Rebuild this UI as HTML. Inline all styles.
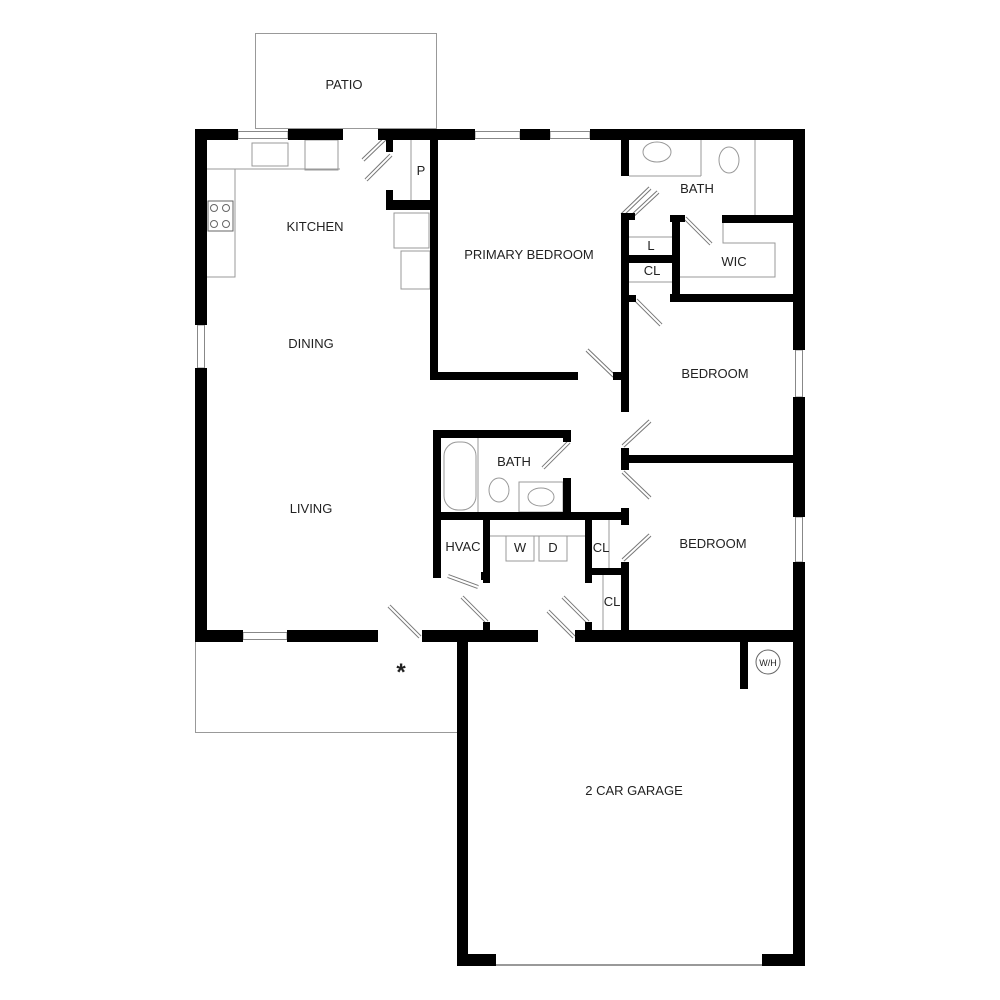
<!DOCTYPE html>
<html><head><meta charset="utf-8"><style>
html,body{margin:0;padding:0;background:#fff;}
svg{display:block;}
text{font-family:"Liberation Sans",sans-serif;font-size:13px;fill:#222;text-anchor:middle;}
</style></head><body>
<svg width="1000" height="1000" viewBox="0 0 1000 1000" xmlns="http://www.w3.org/2000/svg">
<!-- patio / porch outlines -->
<g fill="none" stroke="#999" stroke-width="1">
<rect x="255.5" y="33.5" width="181" height="95"/>
<polyline points="195.5,642 195.5,732.5 457,732.5"/>
</g>
<!-- windows -->
<g fill="#fff" stroke="#888" stroke-width="1">
<rect x="238" y="131.5" width="50" height="7"/>
<rect x="475" y="131.5" width="45" height="7"/>
<rect x="550" y="131.5" width="40" height="7"/>
<rect x="197.5" y="325" width="7" height="43"/>
<rect x="243" y="632.5" width="44" height="7"/>
<rect x="795.5" y="350" width="7" height="47"/>
<rect x="795.5" y="517" width="7" height="45"/>
</g>
<line x1="496" y1="965" x2="762" y2="965" stroke="#999" stroke-width="2"/>
<!-- thin interior lines -->
<g fill="none" stroke="#999" stroke-width="1">
<line x1="411" y1="140" x2="411" y2="200"/>
<line x1="755" y1="140" x2="755" y2="215"/>
<line x1="629" y1="237" x2="672" y2="237"/>
<line x1="629" y1="282" x2="672" y2="282"/>
<polyline points="723,222 723,243 775,243 775,277 680,277"/>
<line x1="629" y1="176" x2="701" y2="176"/>
<line x1="701" y1="140" x2="701" y2="176"/>
<line x1="478" y1="438" x2="478" y2="512"/>
<line x1="490" y1="536" x2="585" y2="536"/>
<line x1="609" y1="520" x2="609" y2="568"/>
<line x1="603" y1="575" x2="603" y2="630"/>
<!-- kitchen counters -->
<polyline points="207,169 235,169 235,277 207,277"/>
<line x1="235" y1="169" x2="340" y2="169"/>
<rect x="252" y="143" width="36" height="23"/>
<rect x="305" y="140" width="33" height="30"/>
<rect x="208" y="201" width="25" height="30" stroke="#666"/>
<rect x="394" y="213" width="35" height="35"/>
<rect x="401" y="251" width="29" height="38"/>
<!-- bath fixtures -->
<rect x="444" y="442" width="32" height="68" rx="14"/>
<ellipse cx="657" cy="152" rx="14" ry="10"/>
<ellipse cx="729" cy="160" rx="10" ry="13"/>
<ellipse cx="499" cy="490" rx="10" ry="12"/>
<rect x="519" y="482" width="44" height="30"/>
<ellipse cx="541" cy="497" rx="13" ry="9"/>
<rect x="506" y="536" width="28" height="25"/>
<rect x="539" y="536" width="28" height="25"/>
</g>
<g fill="none" stroke="#666" stroke-width="1">
<circle cx="214" cy="208" r="3.5"/><circle cx="226" cy="208" r="3.5"/>
<circle cx="214" cy="224" r="3.5"/><circle cx="226" cy="224" r="3.5"/>
<circle cx="768" cy="662" r="12"/>
</g>
<!-- doors -->
<g stroke="#777" stroke-width="4" stroke-linecap="butt">
<line x1="363" y1="160" x2="388" y2="136"/>
<line x1="366" y1="180" x2="391" y2="155"/>
<line x1="622" y1="215" x2="650" y2="188"/>
<line x1="630" y1="218" x2="658" y2="192"/>
<line x1="685" y1="218" x2="711" y2="244"/>
<line x1="636" y1="300" x2="661" y2="325"/>
<line x1="587" y1="350" x2="614" y2="376"/>
<line x1="623" y1="446" x2="650" y2="421"/>
<line x1="623" y1="472" x2="650" y2="498"/>
<line x1="623" y1="560" x2="650" y2="535"/>
<line x1="543" y1="468" x2="569" y2="442"/>
<line x1="448" y1="576" x2="478" y2="587"/>
<line x1="462" y1="597" x2="487" y2="622"/>
<line x1="389" y1="606" x2="420" y2="637"/>
<line x1="563" y1="597" x2="588" y2="622"/>
<line x1="548" y1="611" x2="574" y2="637"/>
</g>
<g stroke="#fff" stroke-width="2">
<line x1="363" y1="160" x2="388" y2="136"/>
<line x1="366" y1="180" x2="391" y2="155"/>
<line x1="622" y1="215" x2="650" y2="188"/>
<line x1="630" y1="218" x2="658" y2="192"/>
<line x1="685" y1="218" x2="711" y2="244"/>
<line x1="636" y1="300" x2="661" y2="325"/>
<line x1="587" y1="350" x2="614" y2="376"/>
<line x1="623" y1="446" x2="650" y2="421"/>
<line x1="623" y1="472" x2="650" y2="498"/>
<line x1="623" y1="560" x2="650" y2="535"/>
<line x1="543" y1="468" x2="569" y2="442"/>
<line x1="448" y1="576" x2="478" y2="587"/>
<line x1="462" y1="597" x2="487" y2="622"/>
<line x1="389" y1="606" x2="420" y2="637"/>
<line x1="563" y1="597" x2="588" y2="622"/>
<line x1="548" y1="611" x2="574" y2="637"/>
</g>
<!-- walls -->
<g fill="#000">
<!-- top -->
<rect x="195" y="129" width="43" height="11"/>
<rect x="288" y="129" width="55" height="11"/>
<rect x="378" y="129" width="97" height="11"/>
<rect x="520" y="129" width="30" height="11"/>
<rect x="590" y="129" width="215" height="11"/>
<!-- left -->
<rect x="195" y="129" width="12" height="196"/>
<rect x="195" y="368" width="12" height="274"/>
<!-- bottom -->
<rect x="195" y="630" width="48" height="12"/>
<rect x="287" y="630" width="91" height="12"/>
<rect x="422" y="630" width="116" height="12"/>
<rect x="575" y="630" width="230" height="12"/>
<!-- right -->
<rect x="793" y="129" width="12" height="221"/>
<rect x="793" y="397" width="12" height="120"/>
<rect x="793" y="562" width="12" height="404"/>
<!-- garage -->
<rect x="457" y="642" width="11" height="324"/>
<rect x="457" y="954" width="39" height="12"/>
<rect x="762" y="954" width="43" height="12"/>
<rect x="740" y="642" width="8" height="47"/>
<!-- pantry -->
<rect x="386" y="140" width="7" height="12"/>
<rect x="386" y="190" width="7" height="20"/>
<rect x="386" y="200" width="51" height="10"/>
<!-- primary bedroom -->
<rect x="430" y="140" width="8" height="240"/>
<rect x="430" y="372" width="148" height="8"/>
<rect x="621" y="140" width="8" height="36"/>
<rect x="621" y="213" width="8" height="199"/>
<rect x="621" y="213" width="8" height="8"/>
<rect x="629" y="213" width="6" height="7"/>
<rect x="613" y="372" width="8" height="8"/>
<rect x="629" y="295" width="7" height="7"/>
<rect x="629" y="255" width="51" height="8"/>
<!-- WIC -->
<rect x="670" y="215" width="15" height="7"/>
<rect x="672" y="215" width="8" height="87"/>
<rect x="670" y="294" width="135" height="8"/>
<rect x="722" y="215" width="83" height="8"/>
<!-- bedrooms -->
<rect x="621" y="448" width="8" height="22"/>
<rect x="621" y="455" width="184" height="8"/>
<rect x="621" y="508" width="8" height="17"/>
<rect x="621" y="562" width="8" height="70"/>
<!-- bath 2 -->
<rect x="433" y="430" width="8" height="148"/>
<rect x="433" y="430" width="138" height="8"/>
<rect x="563" y="430" width="8" height="12"/>
<rect x="563" y="478" width="8" height="42"/>
<rect x="433" y="512" width="195" height="8"/>
<rect x="483" y="515" width="7" height="68"/>
<rect x="481" y="572" width="4" height="8"/>
<rect x="585" y="515" width="7" height="68"/>
<rect x="585" y="568" width="43" height="7"/>
<rect x="483" y="622" width="7" height="10"/>
<rect x="585" y="622" width="7" height="10"/>
</g>
<!-- labels -->
<text x="344" y="89">PATIO</text>
<text x="421" y="175">P</text>
<text x="315" y="231">KITCHEN</text>
<text x="529" y="259">PRIMARY BEDROOM</text>
<text x="697" y="193">BATH</text>
<text x="651" y="250">L</text>
<text x="652" y="275">CL</text>
<text x="734" y="266">WIC</text>
<text x="311" y="348">DINING</text>
<text x="715" y="378">BEDROOM</text>
<text x="514" y="466">BATH</text>
<text x="311" y="513">LIVING</text>
<text x="463" y="551">HVAC</text>
<text x="520" y="552">W</text>
<text x="553" y="552">D</text>
<text x="601" y="552">CL</text>
<text x="713" y="548">BEDROOM</text>
<text x="612" y="606">CL</text>
<text x="768" y="666" style="font-size:9px">W/H</text>
<text x="634" y="795">2 CAR GARAGE</text>
<text x="401" y="680" style="font-size:24px;font-weight:bold">*</text>
</svg>
</body></html>
